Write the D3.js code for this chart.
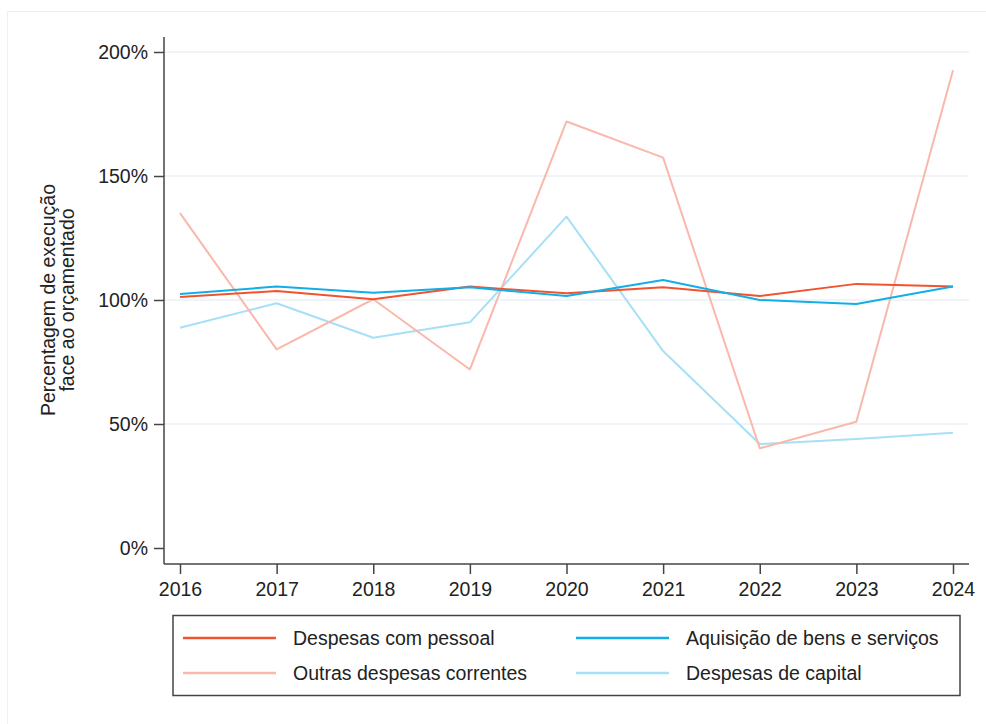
<!DOCTYPE html>
<html><head><meta charset="utf-8">
<script src="https://cdn.jsdelivr.net/npm/d3@7"></script>
<style>
html,body{margin:0;padding:0;background:#fff;}
text{font-family:"Liberation Sans",Arial,sans-serif;}
</style></head>
<body><svg id="c" width="986" height="724"></svg>
<script>
const years = ["2016","2017","2018","2019","2020","2021","2022","2023","2024"];
const seriesNames = ["Despesas com pessoal","Aquisição de bens e serviços","Outras despesas correntes","Despesas de capital"];
const pessoal   = [101.2,103.6,100.3,105.4,102.7,105.1,101.6,106.5,105.4];
const aquisicao = [102.4,105.4,102.9,105.1,101.6,108.1,100.0,98.4,105.4];
const outras    = [135.0,80.1,100.3,72.0,172.0,157.4,40.2,50.9,192.6];
const capital   = [88.8,98.7,84.8,91.0,133.6,79.4,41.9,44.0,46.5];
const yTicks = [0,50,100,150,200];
const colors = ["#f2532f","#12aee8","#f9b8ab","#a7e0f6"];
const FS = 19.5;

const svg = d3.select("#c");
svg.append("rect").attr("x",7.5).attr("y",11.5).attr("width",990).attr("height",720)
  .attr("fill","none").attr("stroke","#efefef");

const x = d3.scalePoint().domain(years).range([180,953]);
const y = d3.scaleLinear().domain([0,200]).range([548,52]);

svg.append("g").selectAll("line").data(yTicks.filter(d=>d>0)).join("line")
  .attr("x1",164).attr("x2",969).attr("y1",d=>y(d)).attr("y2",d=>y(d))
  .attr("stroke","#eaf1f5").attr("stroke-width",1.5);

const ya = svg.append("g").attr("transform","translate(164,0)")
  .call(d3.axisLeft(y).tickValues(yTicks).tickFormat(d=>d+"%").tickSize(10).tickPadding(6));
ya.select(".domain").attr("d","M0,37V564");
const xa = svg.append("g").attr("transform","translate(0,564)")
  .call(d3.axisBottom(x).tickSize(10).tickPadding(8));
xa.select(".domain").attr("d","M164,0H969");
[ya,xa].forEach(a=>{
  a.selectAll(".domain,.tick line").attr("stroke","#444").attr("stroke-width",1.5);
  a.selectAll("text").attr("font-size",FS).attr("fill","#222")
   .attr("font-family","'Liberation Sans',Arial,sans-serif");
});

const yl = svg.append("text").attr("transform","translate(55,300) rotate(-90)")
  .attr("text-anchor","middle").attr("font-size",FS).attr("fill","#222");
yl.append("tspan").attr("x",0).attr("dy","0").text("Percentagem de execução");
yl.append("tspan").attr("x",0).attr("dy","19").text("face ao orçamentado");

const data = [pessoal,aquisicao,outras,capital];
const line = d3.line().x((d,i)=>x(years[i])).y(d=>y(d));
[3,2,0,1].forEach(k=>{
  svg.append("path").datum(data[k]).attr("d",line).attr("fill","none")
    .attr("stroke",colors[k]).attr("stroke-width",2).attr("stroke-linejoin","round");
});

const lg = svg.append("g");
lg.append("rect").attr("x",173).attr("y",615.5).attr("width",787).attr("height",80)
  .attr("fill","#fff").attr("stroke","#444").attr("stroke-width",1.5);
const pos = [[183,638],[576,638],[183,673],[576,673]];
seriesNames.forEach((n,k)=>{
  const [px,py]=pos[k];
  lg.append("line").attr("x1",px).attr("x2",px+93).attr("y1",py).attr("y2",py)
    .attr("stroke",colors[k]).attr("stroke-width",2.5);
  lg.append("text").attr("x",px+110).attr("y",py+7).attr("font-size",FS).attr("fill","#222").text(n);
});
</script></body></html>
